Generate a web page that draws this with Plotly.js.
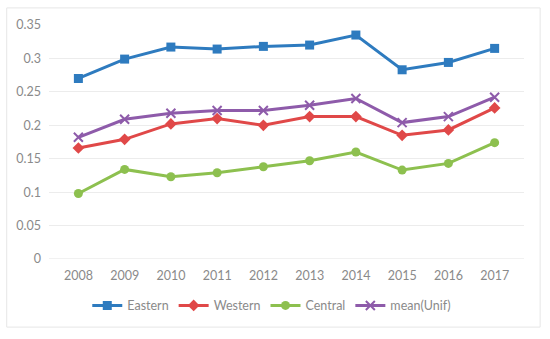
<!DOCTYPE html>
<html>
<head>
<meta charset="utf-8">
<script src="https://cdn.plot.ly/plotly-3.0.1.min.js"></script>
<style>html,body{margin:0;padding:0;background:#fff;}#chart{width:550px;height:339px;}</style>
</head>
<body>
<div id="chart"></div>
<script>
const years = ["2008","2009","2010","2011","2012","2013","2014","2015","2016","2017"];
const eastern = [0.270, 0.299, 0.317, 0.314, 0.318, 0.320, 0.335, 0.283, 0.294, 0.315];
const western = [0.166, 0.179, 0.202, 0.210, 0.200, 0.213, 0.213, 0.185, 0.193, 0.226];
const central = [0.098, 0.134, 0.123, 0.129, 0.138, 0.147, 0.160, 0.133, 0.143, 0.174];
const meanUnif = [0.182, 0.209, 0.218, 0.222, 0.222, 0.230, 0.240, 0.204, 0.213, 0.242];

function tr(name, y, color, symbol, size) {
  return {x: years, y: y, name: name, type: 'scatter', mode: 'lines+markers',
    line: {color: color, width: 3}, marker: {color: color, symbol: symbol, size: size,
    line: {color: color, width: symbol === 'x-thin' ? 2 : 0}}};
}
const data = [
  tr('Eastern', eastern, '#2E7BBF', 'square', 9),
  tr('Western', western, '#E04848', 'diamond', 9),
  tr('Central', central, '#8DC04F', 'circle', 9),
  tr('mean(Unif)', meanUnif, '#8E5BAA', 'x-thin', 9)
];
const layout = {
  width: 550, height: 339,
  margin: {l: 49, r: 26, t: 25, b: 80},
  paper_bgcolor: '#fff', plot_bgcolor: '#fff',
  font: {family: 'Lato, "Open Sans", sans-serif', size: 12, color: '#8a8a8a'},
  xaxis: {type: 'category', showgrid: false, zeroline: false, showline: false, ticks: '',
    ticklabelstandoff: 7, tickfont: {size: 12.5, color: '#8a8a8a'}},
  yaxis: {range: [0, 0.35], dtick: 0.05, showgrid: true, gridcolor: '#ececec', gridwidth: 1,
    zeroline: false, showline: false, ticks: '', ticklabelstandoff: 7,
    tickfont: {size: 12.5, color: '#8a8a8a'}},
  showlegend: true,
  legend: {orientation: 'h', x: 0.469, xanchor: 'center', y: -0.2, yanchor: 'middle',
    font: {size: 12.5, color: '#8a8a8a'}, itemwidth: 30, tracegroupgap: 0},
  shapes: [
    {type: 'line', xref: 'paper', yref: 'y', x0: 0, x1: 1, y0: 0, y1: 0, line: {color: '#e3e3e3', width: 1}},
    {type: 'rect', xref: 'paper', yref: 'paper', x0: -0.089, x1: 1.034, y0: -0.291, y1: 1.073,
     line: {color: '#e6e6e6', width: 1}, fillcolor: 'rgba(0,0,0,0)', layer: 'below'}
  ]
};
Plotly.newPlot('chart', data, layout, {displayModeBar: false, staticPlot: true});
</script>
</body>
</html>
